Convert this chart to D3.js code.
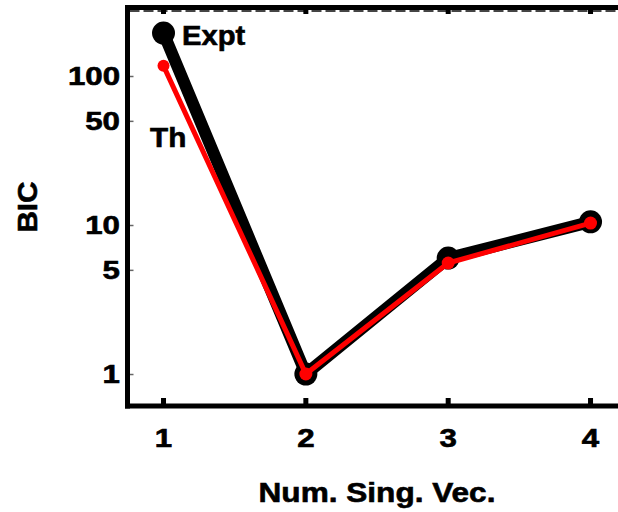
<!DOCTYPE html>
<html>
<head>
<meta charset="utf-8">
<script src="https://cdn.jsdelivr.net/npm/d3@7"></script>
<style>
html,body{margin:0;padding:0;background:#fff;}
svg{display:block;}
text{font-family:"Liberation Sans",Arial,sans-serif;font-weight:bold;fill:#000;stroke:#000;stroke-width:0.6px;}
</style>
</head>
<body>
<script>
const xValues = [1, 2, 3, 4];
const exptValues = [194, 1.0, 6.0, 10.5];
const thValues = [117, 1.0, 5.56, 10.3];
const xTickLabels = ["1", "2", "3", "4"];
const yTickValues = [1, 5, 10, 50, 100];
const yTickLabels = ["1", "5", "10", "50", "100"];

const W = 618, H = 512;
const svg = d3.select("body").append("svg").attr("width", W).attr("height", H);

const x = d3.scaleLinear().domain([0.747, 4.2]).range([127.5, 619]);
const y = d3.scaleLog().domain([0.61, 286]).range([406, 8]);

const plotLeft = 127.5, plotBottom = 406, plotTop = 7.5;

// top frame line with dashed minor row and ticks
svg.append("line").attr("x1", plotLeft - 2.5).attr("x2", W).attr("y1", plotTop).attr("y2", plotTop)
  .attr("stroke", "#000").attr("stroke-width", 5);
svg.append("line").attr("x1", plotLeft + 2).attr("x2", W).attr("y1", 11).attr("y2", 11)
  .attr("stroke", "#444").attr("stroke-width", 2).attr("stroke-dasharray", "10,4");
svg.append("g").selectAll("rect").data(xValues).join("rect")
  .attr("x", d => x(d) - 2.5).attr("y", 9).attr("width", 5).attr("height", 5).attr("fill", "#000");

// left axis
const yAxis = d3.axisRight(y).tickValues(yTickValues).tickSize(4).tickFormat("");
const gy = svg.append("g").attr("transform", `translate(${plotLeft + 2},0)`).call(yAxis);
gy.select(".domain").remove();
gy.selectAll(".tick line").attr("stroke", "#666").attr("stroke-width", 1.5);
svg.append("line").attr("x1", plotLeft).attr("x2", plotLeft).attr("y1", plotTop - 2.5).attr("y2", plotBottom + 2.5)
  .attr("stroke", "#000").attr("stroke-width", 5);

// y tick labels
svg.append("g").selectAll("text").data(yTickValues).join("text")
  .attr("transform", d => `translate(120,${y(d)}) scale(1.25,1)`)
  .attr("text-anchor", "end").attr("dominant-baseline", "central")
  .attr("font-size", 25)
  .text((d, i) => yTickLabels[i]);

// bottom axis
const xAxis = d3.axisTop(x).tickValues(xValues).tickSize(0).tickFormat("");
const gx = svg.append("g").attr("transform", `translate(0,${plotBottom})`).call(xAxis);
gx.select(".domain").remove();
svg.append("g").selectAll("rect").data(xValues).join("rect")
  .attr("x", d => x(d) - 2.5).attr("y", plotBottom - 8).attr("width", 5).attr("height", 6).attr("fill", "#000");
svg.append("line").attr("x1", plotLeft - 2.5).attr("x2", W).attr("y1", plotBottom).attr("y2", plotBottom)
  .attr("stroke", "#000").attr("stroke-width", 5);

svg.append("g").selectAll("text").data(xValues).join("text")
  .attr("transform", d => `translate(${x(d)},447) scale(1.25,1)`)
  .attr("text-anchor", "middle").attr("font-size", 25)
  .text((d, i) => xTickLabels[i]);

// axis titles
svg.append("text").attr("transform", "translate(377,502) scale(1.17,1)")
  .attr("text-anchor", "middle").attr("font-size", 27).text("Num. Sing. Vec.");
svg.append("text").attr("transform", "translate(37,207) rotate(-90) scale(1.1,1)")
  .attr("text-anchor", "middle").attr("font-size", 27).text("BIC");

// series
const line = d3.line().x((d, i) => x(xValues[i])).y(d => y(d));
svg.append("path").datum(exptValues).attr("d", line).attr("fill", "none")
  .attr("stroke", "#000").attr("stroke-width", 12).attr("stroke-linejoin", "round");
svg.append("g").selectAll("circle").data(exptValues).join("circle")
  .attr("cx", (d, i) => x(xValues[i])).attr("cy", d => y(d)).attr("r", 11.5).attr("fill", "#000");

svg.append("path").datum(thValues).attr("d", line).attr("fill", "none")
  .attr("stroke", "#f00").attr("stroke-width", 5).attr("stroke-linejoin", "round");
svg.append("g").selectAll("circle").data(thValues).join("circle")
  .attr("cx", (d, i) => x(xValues[i])).attr("cy", d => y(d)).attr("r", (d, i) => i === 0 ? 6 : 6.5).attr("fill", "#f00");

// series labels
svg.append("text").attr("transform", "translate(182,45) scale(1.08,1)")
  .attr("font-size", 27).text("Expt");
svg.append("text").attr("transform", "translate(150,147) scale(1.1,1)")
  .attr("font-size", 27).text("Th");
</script>
</body>
</html>
